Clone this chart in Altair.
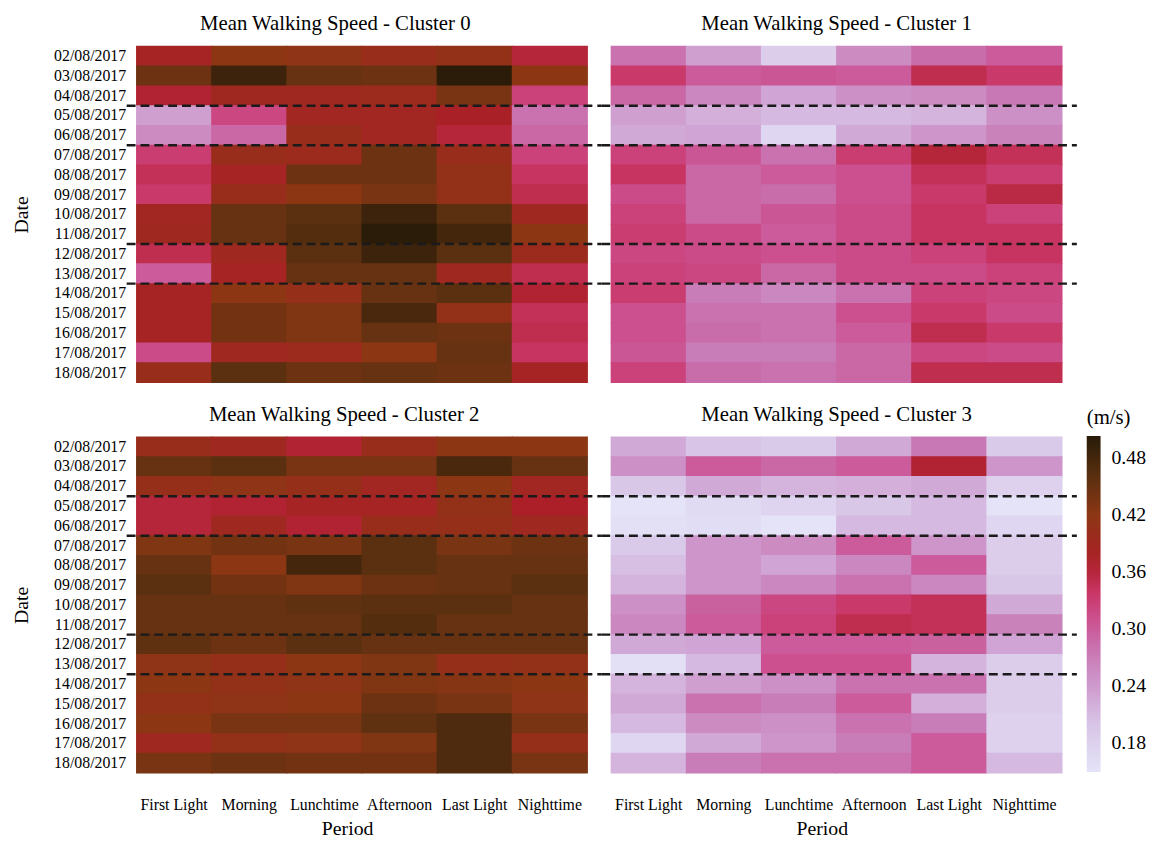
import altair as alt
import pandas as pd

FONT = "Liberation Serif"

periods = ["First Light", "Morning", "Lunchtime", "Afternoon", "Last Light", "Nighttime"]
dates = ["02/08/2017", "03/08/2017", "04/08/2017", "05/08/2017", "06/08/2017",
         "07/08/2017", "08/08/2017", "09/08/2017", "10/08/2017", "11/08/2017",
         "12/08/2017", "13/08/2017", "14/08/2017", "15/08/2017", "16/08/2017",
         "17/08/2017", "18/08/2017"]

cluster0 = [
    [0.380, 0.420, 0.415, 0.400, 0.410, 0.360],
    [0.445, 0.485, 0.450, 0.445, 0.500, 0.420],
    [0.365, 0.390, 0.390, 0.395, 0.435, 0.325],
    [0.235, 0.320, 0.385, 0.385, 0.375, 0.280],
    [0.255, 0.290, 0.400, 0.385, 0.360, 0.290],
    [0.330, 0.400, 0.395, 0.445, 0.400, 0.325],
    [0.345, 0.380, 0.445, 0.445, 0.410, 0.340],
    [0.335, 0.400, 0.420, 0.435, 0.410, 0.350],
    [0.385, 0.450, 0.460, 0.485, 0.460, 0.390],
    [0.390, 0.450, 0.465, 0.500, 0.480, 0.420],
    [0.350, 0.390, 0.460, 0.485, 0.460, 0.395],
    [0.300, 0.380, 0.450, 0.450, 0.390, 0.350],
    [0.380, 0.420, 0.405, 0.450, 0.460, 0.365],
    [0.380, 0.440, 0.430, 0.475, 0.410, 0.345],
    [0.380, 0.440, 0.430, 0.450, 0.445, 0.350],
    [0.315, 0.390, 0.395, 0.420, 0.450, 0.340],
    [0.400, 0.460, 0.445, 0.450, 0.445, 0.380],
]

cluster1 = [
    [0.280, 0.235, 0.185, 0.255, 0.285, 0.300],
    [0.335, 0.300, 0.305, 0.300, 0.350, 0.335],
    [0.290, 0.260, 0.230, 0.250, 0.255, 0.275],
    [0.235, 0.220, 0.210, 0.210, 0.215, 0.250],
    [0.225, 0.230, 0.170, 0.225, 0.245, 0.265],
    [0.325, 0.305, 0.280, 0.330, 0.360, 0.345],
    [0.340, 0.290, 0.300, 0.310, 0.345, 0.330],
    [0.315, 0.290, 0.285, 0.310, 0.335, 0.355],
    [0.325, 0.290, 0.305, 0.315, 0.340, 0.325],
    [0.330, 0.315, 0.300, 0.315, 0.340, 0.340],
    [0.320, 0.315, 0.310, 0.315, 0.325, 0.340],
    [0.325, 0.320, 0.290, 0.315, 0.315, 0.325],
    [0.330, 0.270, 0.260, 0.280, 0.325, 0.320],
    [0.310, 0.280, 0.280, 0.310, 0.335, 0.315],
    [0.310, 0.285, 0.280, 0.300, 0.350, 0.335],
    [0.305, 0.270, 0.270, 0.290, 0.320, 0.315],
    [0.325, 0.285, 0.280, 0.290, 0.350, 0.350],
]

cluster2 = [
    [0.400, 0.390, 0.365, 0.400, 0.420, 0.420],
    [0.450, 0.460, 0.435, 0.435, 0.475, 0.450],
    [0.405, 0.415, 0.405, 0.385, 0.420, 0.385],
    [0.360, 0.365, 0.380, 0.380, 0.410, 0.370],
    [0.360, 0.390, 0.365, 0.400, 0.405, 0.390],
    [0.430, 0.440, 0.435, 0.460, 0.435, 0.445],
    [0.450, 0.420, 0.480, 0.460, 0.450, 0.450],
    [0.460, 0.440, 0.430, 0.445, 0.450, 0.460],
    [0.450, 0.450, 0.455, 0.460, 0.460, 0.450],
    [0.450, 0.450, 0.450, 0.465, 0.450, 0.450],
    [0.455, 0.445, 0.460, 0.450, 0.450, 0.450],
    [0.415, 0.405, 0.420, 0.430, 0.405, 0.410],
    [0.420, 0.410, 0.415, 0.430, 0.425, 0.420],
    [0.410, 0.415, 0.420, 0.445, 0.435, 0.415],
    [0.420, 0.435, 0.435, 0.455, 0.470, 0.435],
    [0.390, 0.410, 0.415, 0.430, 0.470, 0.405],
    [0.435, 0.445, 0.440, 0.440, 0.470, 0.435],
]

cluster3 = [
    [0.225, 0.200, 0.190, 0.225, 0.275, 0.190],
    [0.250, 0.300, 0.290, 0.300, 0.365, 0.245],
    [0.195, 0.225, 0.215, 0.220, 0.225, 0.180],
    [0.150, 0.165, 0.175, 0.195, 0.210, 0.150],
    [0.155, 0.160, 0.150, 0.210, 0.210, 0.170],
    [0.190, 0.245, 0.255, 0.300, 0.245, 0.185],
    [0.205, 0.245, 0.230, 0.260, 0.300, 0.185],
    [0.215, 0.245, 0.260, 0.280, 0.260, 0.195],
    [0.250, 0.295, 0.320, 0.335, 0.345, 0.225],
    [0.260, 0.300, 0.325, 0.350, 0.345, 0.265],
    [0.225, 0.230, 0.300, 0.300, 0.295, 0.230],
    [0.155, 0.210, 0.310, 0.310, 0.215, 0.185],
    [0.215, 0.235, 0.250, 0.280, 0.280, 0.185],
    [0.225, 0.280, 0.270, 0.300, 0.220, 0.185],
    [0.210, 0.255, 0.250, 0.280, 0.270, 0.180],
    [0.170, 0.225, 0.245, 0.270, 0.300, 0.180],
    [0.215, 0.270, 0.280, 0.280, 0.300, 0.210],
]

titles = ["Mean Walking Speed - Cluster 0", "Mean Walking Speed - Cluster 1",
          "Mean Walking Speed - Cluster 2", "Mean Walking Speed - Cluster 3"]
boundaries = ["05/08/2017", "07/08/2017", "12/08/2017", "14/08/2017"]
tick_values = [0.18, 0.24, 0.30, 0.36, 0.42, 0.48]
color_domain = [0.149, 0.20, 0.23, 0.275, 0.31, 0.34, 0.37, 0.42, 0.46, 0.503]
color_range = ["#e4e4f8", "#d8c4e6", "#d0a4d4", "#c878b4", "#cc5090",
               "#c83462", "#ac1f28", "#8c3614", "#5a3010", "#281a08"]

W, H = 456, 340
GAP = 24
ROWGAP = 55
CW, CH = W / len(periods), H / len(dates)

legend_all = alt.Legend(
    title="(m/s)", orient="none", legendX=2 * W + GAP + 25, legendY=H + ROWGAP - 30,
    direction="vertical", gradientLength=H, gradientThickness=14,
    values=tick_values, format=".2f", labelFont=FONT, labelFontSize=20,
    labelColor="black", labelOffset=11, titleFont=FONT, titleFontSize=21,
    titleFontWeight="normal", titleColor="black", titlePadding=8,
    gradientStrokeWidth=0,
)


def panel(values, title, show_x, show_y, title_dx, left):
    rows = [{"date": d, "period": p, "speed": values[r][c]}
            for r, d in enumerate(dates) for c, p in enumerate(periods)]
    df = pd.DataFrame(rows)
    xscale = alt.Scale(domain=periods, paddingInner=0, paddingOuter=0)
    yscale = alt.Scale(domain=dates, paddingInner=0, paddingOuter=0)
    cscale = alt.Scale(domain=color_domain, range=color_range, interpolate="rgb")
    if show_x:
        xaxis = alt.Axis(title="Period", labelAngle=0, labelPadding=24,
                         titlePadding=6, titleX=W / 2 - 15)
    else:
        xaxis = None
    if show_y:
        yaxis = alt.Axis(title="Date", labelPadding=11, titlePadding=22)
    else:
        yaxis = None
    heat = alt.Chart(df).mark_rect(width=CW + 1, height=CH + 1).encode(
        x=alt.X("period:N", scale=xscale, axis=xaxis),
        y=alt.Y("date:N", scale=yscale, axis=yaxis),
        color=alt.Color("speed:Q", scale=cscale, legend=legend_all),
    )
    if left:
        x1, x2 = -10, W + GAP - 10
    else:
        x1, x2 = -10, W + 15
    rules = alt.Chart(pd.DataFrame({"date": boundaries})).mark_rule(
        color="#1a1a1a", strokeWidth=2.5, strokeDash=[9, 5]
    ).encode(
        y=alt.Y("date:N", scale=yscale, axis=yaxis, bandPosition=0),
        x=alt.value(x1),
        x2=alt.value(x2),
    )
    return alt.layer(heat, rules).properties(
        width=W, height=H,
        title=alt.TitleParams(title, font=FONT, fontSize=21, fontWeight="normal",
                              color="black", dx=title_dx, offset=12,
                              anchor="middle", frame="group"),
    )


p0 = panel(cluster0, titles[0], False, True, -27, True)
p1 = panel(cluster1, titles[1], False, False, 0, False)
p2 = panel(cluster2, titles[2], True, True, -18, True)
p3 = panel(cluster3, titles[3], True, False, 0, False)

chart = alt.concat(
    p0, p1, p2, p3, columns=2,
    spacing={"row": ROWGAP, "column": GAP}, bounds="flush",
    padding={"left": 4, "top": 0, "right": 5, "bottom": 2},
).configure_view(
    stroke=None
).configure_axis(
    labelFont=FONT, titleFont=FONT, labelFontSize=16, titleFontSize=20,
    titleFontWeight="normal", labelColor="black", titleColor="black",
    domain=False, ticks=False,
)

chart.save("out.html", embed_options={"renderer": "svg", "actions": False})
